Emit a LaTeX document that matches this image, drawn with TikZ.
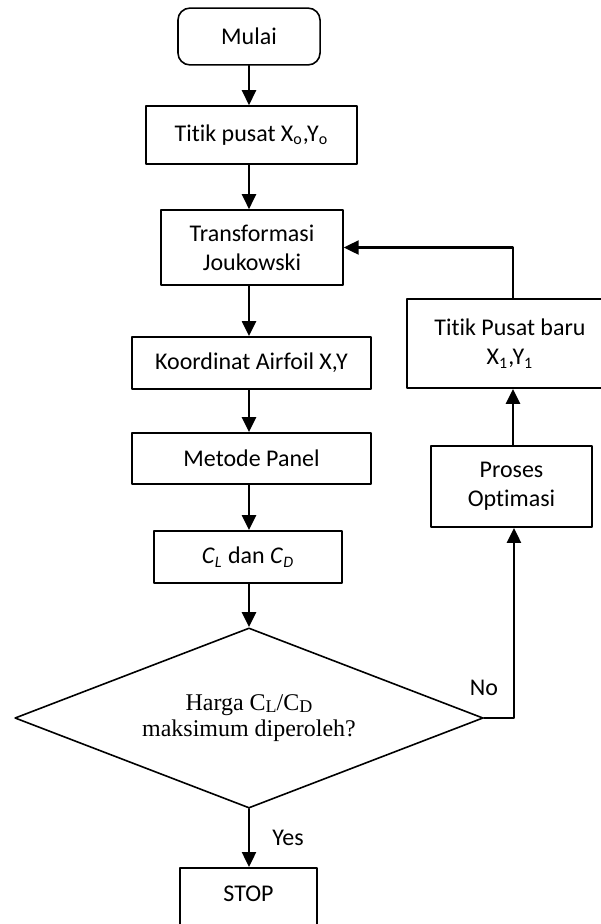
\documentclass[tikz,border=0pt]{standalone}
\usepackage{fontspec}
\setmainfont{Carlito}[Ligatures=NoCommon]
\newfontfamily\timesfont{Liberation Serif}
\usetikzlibrary{arrows.meta,calc,positioning,shapes.geometric}
\tikzset{
  box/.style={rectangle, draw, line width=0.8pt, align=center, inner sep=2pt,
    font=\fontsize{12}{14.6}\selectfont},
  startbox/.style={box, rounded corners=6pt},
  stopbox/.style={box, text height=10pt, text depth=7.8pt, inner ysep=6.9pt},
  decision/.style={diamond, aspect=2.6, draw, line width=0.8pt, align=center, inner sep=0pt,
    font=\timesfont\fontsize{12}{13}\selectfont},
  flow/.style={line width=1.2pt, -{Triangle[length=7.5pt, width=7pt]}},
  lbl/.style={font=\fontsize{12}{14.6}\selectfont},
  every picture/.style={line cap=round, line join=round}
}
\newcommand{\smsub}[1]{{\fontsize{9}{9}\selectfont\raisebox{-0.2ex}{#1}}}

\begin{document}
\begin{tikzpicture}[x=0.0176cm, y=-0.0176cm]
  \clip (0,0) rectangle (601,924);

  % main column
  \node[startbox, minimum width=2.50cm, minimum height=1.00cm] (mulai) at (249,36.5) {Mulai};
  \node[box, minimum width=3.71cm, minimum height=1.02cm] (titik0) at (251.5,135) {Titik pusat X\textsubscript{o},Y\textsubscript{o}};
  \node[box, minimum width=3.20cm, minimum height=1.32cm] (trans) at (252,247.5) {Transformasi\\Joukowski};
  \node[box, minimum width=4.21cm, minimum height=0.92cm] (koord) at (251.5,363) {Koordinat Airfoil X,Y};
  \node[box, minimum width=4.21cm, minimum height=0.90cm] (panel) at (251.5,458.5) {Metode Panel};
  \node[box, minimum width=3.31cm, minimum height=0.92cm] (clcd) at (248,557) {\textit{C}\textsubscript{\textit{L}} dan \textit{C}\textsubscript{\textit{D}}};
  \node[decision, minimum width=8.24cm, minimum height=3.17cm] (cek) at (249,718) {Harga C\smsub{L}/C\smsub{D}\\maksimum diperoleh?};
  \node[stopbox, minimum width=2.41cm, anchor=north] (stop) at (248.5,867) {STOP};

  % right column
  \node[box, minimum width=3.63cm, minimum height=1.57cm] (baru) at (510,343.5) {Titik Pusat baru\\X\textsubscript{1},Y\textsubscript{1}};
  \node[box, minimum width=2.83cm, minimum height=1.43cm] (optim) at (511.5,486.5) {Proses\\Optimasi};

  \draw[flow] (mulai.south -| 249,0) -- (titik0.north -| 249,0);
  \draw[flow] (titik0.south -| 249,0) -- (trans.north -| 249,0);
  \draw[flow] (trans.south -| 249,0) -- (koord.north -| 249,0);
  \draw[flow] (koord.south -| 249,0) -- (panel.north -| 249,0);
  \draw[flow] (panel.south -| 249,0) -- (clcd.north -| 249,0);
  \draw[flow] (clcd.south -| 249,0) -- (cek.north);
  \draw[flow] (cek.south) -- (stop.north -| cek.south);

  \draw[flow] (cek.east) -- ++(30,0) coordinate (turn) -- (optim.south -| turn);
  \draw[flow] (optim.north -| 513,0) -- (baru.south -| 513,0);
  \draw[flow] (baru.north -| 513,0) |- (trans.east);

  \node[lbl] (no) at (484,688) {No};
  \node[lbl] (yes) at (288,838) {Yes};
\end{tikzpicture}
\end{document}
